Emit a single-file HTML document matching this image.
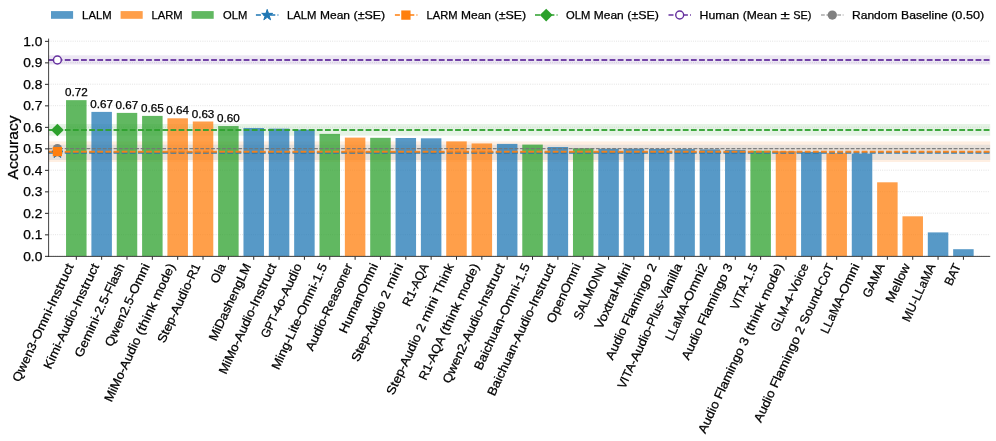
<!DOCTYPE html>
<html><head><meta charset="utf-8"><title>Accuracy chart</title>
<style>html,body{margin:0;padding:0;background:#fff}svg{display:block;will-change:transform}</style></head>
<body>
<svg width="996" height="441" viewBox="0 0 996 441" font-family='"Liberation Sans", sans-serif' fill="#000">
<style>text{stroke:#000;stroke-width:0.25px}</style>
<rect width="996" height="441" fill="#fff"/>
<g stroke="#d4d4d4" stroke-width="0.8" stroke-dasharray="0.8 1.4" fill="none">
<path d="M48.5 256.2H990.2"/>
<path d="M48.5 234.7H990.2"/>
<path d="M48.5 213.2H990.2"/>
<path d="M48.5 191.7H990.2"/>
<path d="M48.5 170.2H990.2"/>
<path d="M48.5 148.7H990.2"/>
<path d="M48.5 127.2H990.2"/>
<path d="M48.5 105.7H990.2"/>
<path d="M48.5 84.2H990.2"/>
<path d="M48.5 62.7H990.2"/>
<path d="M48.5 41.2H990.2"/>
</g>
<rect x="48.5" y="55.3" width="941.7" height="9.2" fill="#65309e" fill-opacity="0.12"/>
<rect x="48.5" y="144.7" width="941.7" height="15.3" fill="#1f77b4" fill-opacity="0.12"/>
<rect x="48.5" y="141.4" width="941.7" height="20.6" fill="#ff7f0e" fill-opacity="0.12"/>
<rect x="48.5" y="124" width="941.7" height="11.7" fill="#2ca02c" fill-opacity="0.12"/>
<g>
<rect x="66.05" y="100.15" width="20.5" height="156.05" fill="#2ca02c" fill-opacity="0.75"/>
<rect x="91.4" y="111.9" width="20.5" height="144.3" fill="#1f77b4" fill-opacity="0.75"/>
<rect x="116.74" y="112.9" width="20.5" height="143.3" fill="#2ca02c" fill-opacity="0.75"/>
<rect x="142.09" y="115.9" width="20.5" height="140.3" fill="#2ca02c" fill-opacity="0.75"/>
<rect x="167.43" y="118.3" width="20.5" height="137.9" fill="#ff7f0e" fill-opacity="0.75"/>
<rect x="192.78" y="121.5" width="20.5" height="134.7" fill="#ff7f0e" fill-opacity="0.75"/>
<rect x="218.13" y="126.05" width="20.5" height="130.15" fill="#2ca02c" fill-opacity="0.75"/>
<rect x="243.47" y="128" width="20.5" height="128.2" fill="#1f77b4" fill-opacity="0.75"/>
<rect x="268.82" y="128.6" width="20.5" height="127.6" fill="#1f77b4" fill-opacity="0.75"/>
<rect x="294.16" y="129.6" width="20.5" height="126.6" fill="#1f77b4" fill-opacity="0.75"/>
<rect x="319.51" y="133.9" width="20.5" height="122.3" fill="#2ca02c" fill-opacity="0.75"/>
<rect x="344.86" y="137.6" width="20.5" height="118.6" fill="#ff7f0e" fill-opacity="0.75"/>
<rect x="370.2" y="137.8" width="20.5" height="118.4" fill="#2ca02c" fill-opacity="0.75"/>
<rect x="395.55" y="138" width="20.5" height="118.2" fill="#1f77b4" fill-opacity="0.75"/>
<rect x="420.89" y="138.3" width="20.5" height="117.9" fill="#1f77b4" fill-opacity="0.75"/>
<rect x="446.24" y="141.4" width="20.5" height="114.8" fill="#ff7f0e" fill-opacity="0.75"/>
<rect x="471.59" y="143.45" width="20.5" height="112.75" fill="#ff7f0e" fill-opacity="0.75"/>
<rect x="496.93" y="143.9" width="20.5" height="112.3" fill="#1f77b4" fill-opacity="0.75"/>
<rect x="522.28" y="144.6" width="20.5" height="111.6" fill="#2ca02c" fill-opacity="0.75"/>
<rect x="547.62" y="147" width="20.5" height="109.2" fill="#1f77b4" fill-opacity="0.75"/>
<rect x="572.97" y="148.3" width="20.5" height="107.9" fill="#2ca02c" fill-opacity="0.75"/>
<rect x="598.32" y="148.8" width="20.5" height="107.4" fill="#1f77b4" fill-opacity="0.75"/>
<rect x="623.66" y="148.8" width="20.5" height="107.4" fill="#1f77b4" fill-opacity="0.75"/>
<rect x="649.01" y="149" width="20.5" height="107.2" fill="#1f77b4" fill-opacity="0.75"/>
<rect x="674.35" y="149.1" width="20.5" height="107.1" fill="#1f77b4" fill-opacity="0.75"/>
<rect x="699.7" y="149.4" width="20.5" height="106.8" fill="#1f77b4" fill-opacity="0.75"/>
<rect x="725.05" y="149.9" width="20.5" height="106.3" fill="#1f77b4" fill-opacity="0.75"/>
<rect x="750.39" y="150.7" width="20.5" height="105.5" fill="#2ca02c" fill-opacity="0.75"/>
<rect x="775.74" y="151.2" width="20.5" height="105" fill="#ff7f0e" fill-opacity="0.75"/>
<rect x="801.08" y="151.9" width="20.5" height="104.3" fill="#1f77b4" fill-opacity="0.75"/>
<rect x="826.43" y="153.1" width="20.5" height="103.1" fill="#ff7f0e" fill-opacity="0.75"/>
<rect x="851.78" y="153.6" width="20.5" height="102.6" fill="#1f77b4" fill-opacity="0.75"/>
<rect x="877.12" y="182.3" width="20.5" height="73.9" fill="#ff7f0e" fill-opacity="0.75"/>
<rect x="902.47" y="216.3" width="20.5" height="39.9" fill="#ff7f0e" fill-opacity="0.75"/>
<rect x="927.81" y="232.4" width="20.5" height="23.8" fill="#1f77b4" fill-opacity="0.75"/>
<rect x="953.16" y="249.2" width="20.5" height="7" fill="#1f77b4" fill-opacity="0.75"/>
</g>
<path d="M48.5 148.65H990.2" stroke="#767676" stroke-width="1.1" stroke-dasharray="3.78 1.64" stroke-opacity="0.9" fill="none"/>
<path d="M48.5 60H990.2" stroke="#65309e" stroke-width="2.0" stroke-dasharray="5.78 2.352" stroke-opacity="0.9" fill="none"/>
<path d="M48.5 152.85H990.2" stroke="#1f77b4" stroke-width="2.0" stroke-dasharray="5.78 2.352" stroke-opacity="0.9" fill="none"/>
<path d="M48.5 151.65H990.2" stroke="#ff7f0e" stroke-width="2.0" stroke-dasharray="5.78 2.352" stroke-opacity="0.9" fill="none"/>
<path d="M48.5 130H990.2" stroke="#2ca02c" stroke-width="2.0" stroke-dasharray="5.78 2.352" stroke-opacity="0.9" fill="none"/>
<circle cx="57.4" cy="148.65" r="4.65" fill="#808080"/>
<circle cx="57.4" cy="60.0" r="3.95" fill="#fff" stroke="#65309e" stroke-width="1.5"/>
<polygon points="57.4,147.1 58.69,151.07 62.87,151.07 59.49,153.53 60.78,157.5 57.4,155.05 54.02,157.5 55.31,153.53 51.93,151.07 56.11,151.07" fill="#1f77b4" stroke="#1f77b4" stroke-width="1" stroke-linejoin="bevel"/>
<rect x="52.75" y="147" width="9.3" height="9.3" fill="#ff7f0e"/>
<polygon points="57.4,123.65 63.75,130 57.4,136.35 51.05,130" fill="#2ca02c"/>
<path d="M48.6 38.6V257.0M48.2 256.4H990.2" stroke="#222" stroke-width="0.85" fill="none"/>
<g stroke="#1a1a1a" stroke-width="0.95" fill="none">
<path d="M45 256.35H48.5"/>
<path d="M45 234.85H48.5"/>
<path d="M45 213.35H48.5"/>
<path d="M45 191.85H48.5"/>
<path d="M45 170.35H48.5"/>
<path d="M45 148.85H48.5"/>
<path d="M45 127.35H48.5"/>
<path d="M45 105.85H48.5"/>
<path d="M45 84.35H48.5"/>
<path d="M45 62.85H48.5"/>
<path d="M45 41.35H48.5"/>
<path d="M76.3 256.7V259.8"/>
<path d="M101.65 256.7V259.8"/>
<path d="M126.99 256.7V259.8"/>
<path d="M152.34 256.7V259.8"/>
<path d="M177.68 256.7V259.8"/>
<path d="M203.03 256.7V259.8"/>
<path d="M228.38 256.7V259.8"/>
<path d="M253.72 256.7V259.8"/>
<path d="M279.07 256.7V259.8"/>
<path d="M304.41 256.7V259.8"/>
<path d="M329.76 256.7V259.8"/>
<path d="M355.11 256.7V259.8"/>
<path d="M380.45 256.7V259.8"/>
<path d="M405.8 256.7V259.8"/>
<path d="M431.14 256.7V259.8"/>
<path d="M456.49 256.7V259.8"/>
<path d="M481.84 256.7V259.8"/>
<path d="M507.18 256.7V259.8"/>
<path d="M532.53 256.7V259.8"/>
<path d="M557.87 256.7V259.8"/>
<path d="M583.22 256.7V259.8"/>
<path d="M608.57 256.7V259.8"/>
<path d="M633.91 256.7V259.8"/>
<path d="M659.26 256.7V259.8"/>
<path d="M684.6 256.7V259.8"/>
<path d="M709.95 256.7V259.8"/>
<path d="M735.3 256.7V259.8"/>
<path d="M760.64 256.7V259.8"/>
<path d="M785.99 256.7V259.8"/>
<path d="M811.33 256.7V259.8"/>
<path d="M836.68 256.7V259.8"/>
<path d="M862.03 256.7V259.8"/>
<path d="M887.37 256.7V259.8"/>
<path d="M912.72 256.7V259.8"/>
<path d="M938.06 256.7V259.8"/>
<path d="M963.41 256.7V259.8"/>
</g>
<text y="260.6" font-size="12.36"><tspan x="23.22" textLength="19.08" lengthAdjust="spacingAndGlyphs">0.0</tspan></text>
<text y="239.1" font-size="12.36"><tspan x="23.22" textLength="19.08" lengthAdjust="spacingAndGlyphs">0.1</tspan></text>
<text y="217.6" font-size="12.36"><tspan x="23.22" textLength="19.08" lengthAdjust="spacingAndGlyphs">0.2</tspan></text>
<text y="196.1" font-size="12.36"><tspan x="23.22" textLength="19.08" lengthAdjust="spacingAndGlyphs">0.3</tspan></text>
<text y="174.6" font-size="12.36"><tspan x="23.22" textLength="19.08" lengthAdjust="spacingAndGlyphs">0.4</tspan></text>
<text y="153.1" font-size="12.36"><tspan x="23.22" textLength="19.08" lengthAdjust="spacingAndGlyphs">0.5</tspan></text>
<text y="131.6" font-size="12.36"><tspan x="23.22" textLength="19.08" lengthAdjust="spacingAndGlyphs">0.6</tspan></text>
<text y="110.1" font-size="12.36"><tspan x="23.22" textLength="19.08" lengthAdjust="spacingAndGlyphs">0.7</tspan></text>
<text y="88.6" font-size="12.36"><tspan x="23.22" textLength="19.08" lengthAdjust="spacingAndGlyphs">0.8</tspan></text>
<text y="67.1" font-size="12.36"><tspan x="23.22" textLength="19.08" lengthAdjust="spacingAndGlyphs">0.9</tspan></text>
<text y="45.6" font-size="12.36"><tspan x="23.22" textLength="19.08" lengthAdjust="spacingAndGlyphs">1.0</tspan></text>
<text y="0" transform="translate(18.1 147.5) rotate(-90)" font-size="14.42"><tspan x="-31.96" textLength="63.92" lengthAdjust="spacingAndGlyphs">Accuracy</tspan></text>
<text y="96.15" font-size="10.51"><tspan x="64.94" textLength="22.71" lengthAdjust="spacingAndGlyphs">0.72</tspan></text>
<text y="107.9" font-size="10.51"><tspan x="90.29" textLength="22.71" lengthAdjust="spacingAndGlyphs">0.67</tspan></text>
<text y="108.9" font-size="10.51"><tspan x="115.64" textLength="22.71" lengthAdjust="spacingAndGlyphs">0.67</tspan></text>
<text y="111.9" font-size="10.51"><tspan x="140.98" textLength="22.71" lengthAdjust="spacingAndGlyphs">0.65</tspan></text>
<text y="114.3" font-size="10.51"><tspan x="166.33" textLength="22.71" lengthAdjust="spacingAndGlyphs">0.64</tspan></text>
<text y="117.5" font-size="10.51"><tspan x="191.67" textLength="22.71" lengthAdjust="spacingAndGlyphs">0.63</tspan></text>
<text y="122.05" font-size="10.51"><tspan x="217.02" textLength="22.71" lengthAdjust="spacingAndGlyphs">0.60</tspan></text>
<text y="0" transform="translate(74 265.9) rotate(-65)" font-size="12.36"><tspan x="-128.9" textLength="46.21" lengthAdjust="spacingAndGlyphs">Qwen3-</tspan><tspan x="-82.68" textLength="36.74" lengthAdjust="spacingAndGlyphs">Omni-</tspan><tspan x="-45.94" textLength="45.94" lengthAdjust="spacingAndGlyphs">Instruct</tspan></text>
<text y="0" transform="translate(99.35 265.9) rotate(-65)" font-size="12.36"><tspan x="-114.9" textLength="30.56" lengthAdjust="spacingAndGlyphs">Kimi-</tspan><tspan x="-84.34" textLength="38.4" lengthAdjust="spacingAndGlyphs">Audio-</tspan><tspan x="-45.94" textLength="45.94" lengthAdjust="spacingAndGlyphs">Instruct</tspan></text>
<text y="0" transform="translate(124.69 265.9) rotate(-65)" font-size="12.36"><tspan x="-101.84" textLength="46.97" lengthAdjust="spacingAndGlyphs">Gemini-</tspan><tspan x="-54.86" textLength="23.41" lengthAdjust="spacingAndGlyphs">2.5-</tspan><tspan x="-31.45" textLength="31.45" lengthAdjust="spacingAndGlyphs">Flash</tspan></text>
<text y="0" transform="translate(150.04 265.9) rotate(-65)" font-size="12.36"><tspan x="-90.07" textLength="57.66" lengthAdjust="spacingAndGlyphs">Qwen2.5-</tspan><tspan x="-32.41" textLength="32.41" lengthAdjust="spacingAndGlyphs">Omni</tspan></text>
<text y="0" transform="translate(175.38 265.9) rotate(-65)" font-size="12.36"><tspan x="-151" textLength="35.94" lengthAdjust="spacingAndGlyphs">MiMo-</tspan><tspan x="-115.07" textLength="33.84" lengthAdjust="spacingAndGlyphs">Audio</tspan> <tspan x="-77.41" textLength="34.88" lengthAdjust="spacingAndGlyphs">(think</tspan> <tspan x="-38.71" textLength="38.71" lengthAdjust="spacingAndGlyphs">mode)</tspan></text>
<text y="0" transform="translate(200.73 265.9) rotate(-65)" font-size="12.36"><tspan x="-86.02" textLength="31.65" lengthAdjust="spacingAndGlyphs">Step-</tspan><tspan x="-54.37" textLength="38.4" lengthAdjust="spacingAndGlyphs">Audio-</tspan><tspan x="-15.97" textLength="15.97" lengthAdjust="spacingAndGlyphs">R1</tspan></text>
<text y="0" transform="translate(226.08 265.9) rotate(-65)" font-size="12.36"><tspan x="-20.13" textLength="20.13" lengthAdjust="spacingAndGlyphs">Ola</tspan></text>
<text y="0" transform="translate(251.42 265.9) rotate(-65)" font-size="12.36"><tspan x="-83.78" textLength="83.78" lengthAdjust="spacingAndGlyphs">MiDashengLM</tspan></text>
<text y="0" transform="translate(276.77 265.9) rotate(-65)" font-size="12.36"><tspan x="-120.28" textLength="35.94" lengthAdjust="spacingAndGlyphs">MiMo-</tspan><tspan x="-84.34" textLength="38.4" lengthAdjust="spacingAndGlyphs">Audio-</tspan><tspan x="-45.94" textLength="45.94" lengthAdjust="spacingAndGlyphs">Instruct</tspan></text>
<text y="0" transform="translate(302.11 265.9) rotate(-65)" font-size="12.36"><tspan x="-80.47" textLength="27.09" lengthAdjust="spacingAndGlyphs">GPT-</tspan><tspan x="-53.37" textLength="19.53" lengthAdjust="spacingAndGlyphs">4o-</tspan><tspan x="-33.84" textLength="33.84" lengthAdjust="spacingAndGlyphs">Audio</tspan></text>
<text y="0" transform="translate(327.46 265.9) rotate(-65)" font-size="12.36"><tspan x="-115.5" textLength="33.24" lengthAdjust="spacingAndGlyphs">Ming-</tspan><tspan x="-82.26" textLength="26.44" lengthAdjust="spacingAndGlyphs">Lite-</tspan><tspan x="-55.82" textLength="36.74" lengthAdjust="spacingAndGlyphs">Omni-</tspan><tspan x="-19.08" textLength="19.08" lengthAdjust="spacingAndGlyphs">1.5</tspan></text>
<text y="0" transform="translate(352.81 265.9) rotate(-65)" font-size="12.36"><tspan x="-94.71" textLength="38.66" lengthAdjust="spacingAndGlyphs">Audio-</tspan><tspan x="-56.05" textLength="56.05" lengthAdjust="spacingAndGlyphs">Reasoner</tspan></text>
<text y="0" transform="translate(378.15 265.9) rotate(-65)" font-size="12.36"><tspan x="-75.35" textLength="75.35" lengthAdjust="spacingAndGlyphs">HumanOmni</tspan></text>
<text y="0" transform="translate(403.5 265.9) rotate(-65)" font-size="12.36"><tspan x="-106.72" textLength="31.65" lengthAdjust="spacingAndGlyphs">Step-</tspan><tspan x="-75.07" textLength="33.84" lengthAdjust="spacingAndGlyphs">Audio</tspan> <tspan x="-37.41" textLength="7.63" lengthAdjust="spacingAndGlyphs">2</tspan> <tspan x="-25.96" textLength="25.96" lengthAdjust="spacingAndGlyphs">mini</tspan></text>
<text y="0" transform="translate(428.84 265.9) rotate(-65)" font-size="12.36"><tspan x="-45.69" textLength="20.3" lengthAdjust="spacingAndGlyphs">R1-</tspan><tspan x="-25.39" textLength="25.39" lengthAdjust="spacingAndGlyphs">AQA</tspan></text>
<text y="0" transform="translate(454.19 265.9) rotate(-65)" font-size="12.36"><tspan x="-143.36" textLength="31.65" lengthAdjust="spacingAndGlyphs">Step-</tspan><tspan x="-111.71" textLength="33.84" lengthAdjust="spacingAndGlyphs">Audio</tspan> <tspan x="-74.05" textLength="7.63" lengthAdjust="spacingAndGlyphs">2</tspan> <tspan x="-62.6" textLength="25.96" lengthAdjust="spacingAndGlyphs">mini</tspan> <tspan x="-32.82" textLength="32.82" lengthAdjust="spacingAndGlyphs">Think</tspan></text>
<text y="0" transform="translate(479.54 265.9) rotate(-65)" font-size="12.36"><tspan x="-126.91" textLength="20.3" lengthAdjust="spacingAndGlyphs">R1-</tspan><tspan x="-106.61" textLength="25.39" lengthAdjust="spacingAndGlyphs">AQA</tspan> <tspan x="-77.41" textLength="34.88" lengthAdjust="spacingAndGlyphs">(think</tspan> <tspan x="-38.71" textLength="38.71" lengthAdjust="spacingAndGlyphs">mode)</tspan></text>
<text y="0" transform="translate(504.88 265.9) rotate(-65)" font-size="12.36"><tspan x="-130.55" textLength="46.21" lengthAdjust="spacingAndGlyphs">Qwen2-</tspan><tspan x="-84.34" textLength="38.4" lengthAdjust="spacingAndGlyphs">Audio-</tspan><tspan x="-45.94" textLength="45.94" lengthAdjust="spacingAndGlyphs">Instruct</tspan></text>
<text y="0" transform="translate(530.23 265.9) rotate(-65)" font-size="12.36"><tspan x="-115.84" textLength="60.02" lengthAdjust="spacingAndGlyphs">Baichuan-</tspan><tspan x="-55.82" textLength="36.74" lengthAdjust="spacingAndGlyphs">Omni-</tspan><tspan x="-19.08" textLength="19.08" lengthAdjust="spacingAndGlyphs">1.5</tspan></text>
<text y="0" transform="translate(555.57 265.9) rotate(-65)" font-size="12.36"><tspan x="-144.36" textLength="60.02" lengthAdjust="spacingAndGlyphs">Baichuan-</tspan><tspan x="-84.34" textLength="38.4" lengthAdjust="spacingAndGlyphs">Audio-</tspan><tspan x="-45.94" textLength="45.94" lengthAdjust="spacingAndGlyphs">Instruct</tspan></text>
<text y="0" transform="translate(580.92 265.9) rotate(-65)" font-size="12.36"><tspan x="-64.13" textLength="64.13" lengthAdjust="spacingAndGlyphs">OpenOmni</tspan></text>
<text y="0" transform="translate(606.27 265.9) rotate(-65)" font-size="12.36"><tspan x="-60.49" textLength="60.49" lengthAdjust="spacingAndGlyphs">SALMONN</tspan></text>
<text y="0" transform="translate(631.61 265.9) rotate(-65)" font-size="12.36"><tspan x="-70.63" textLength="46.01" lengthAdjust="spacingAndGlyphs">Voxtral-</tspan><tspan x="-24.63" textLength="24.63" lengthAdjust="spacingAndGlyphs">Mini</tspan></text>
<text y="0" transform="translate(656.96 265.9) rotate(-65)" font-size="12.36"><tspan x="-104.55" textLength="34.11" lengthAdjust="spacingAndGlyphs">Audio</tspan> <tspan x="-66.63" textLength="55.18" lengthAdjust="spacingAndGlyphs">Flamingo</tspan> <tspan x="-7.63" textLength="7.63" lengthAdjust="spacingAndGlyphs">2</tspan></text>
<text y="0" transform="translate(682.3 265.9) rotate(-65)" font-size="12.36"><tspan x="-136.47" textLength="30.42" lengthAdjust="spacingAndGlyphs">VITA-</tspan><tspan x="-106.04" textLength="38.4" lengthAdjust="spacingAndGlyphs">Audio-</tspan><tspan x="-67.65" textLength="28.76" lengthAdjust="spacingAndGlyphs">Plus-</tspan><tspan x="-38.89" textLength="38.89" lengthAdjust="spacingAndGlyphs">Vanilla</tspan></text>
<text y="0" transform="translate(707.65 265.9) rotate(-65)" font-size="12.36"><tspan x="-83.4" textLength="43.35" lengthAdjust="spacingAndGlyphs">LLaMA-</tspan><tspan x="-40.04" textLength="40.04" lengthAdjust="spacingAndGlyphs">Omni2</tspan></text>
<text y="0" transform="translate(733 265.9) rotate(-65)" font-size="12.36"><tspan x="-104.55" textLength="34.11" lengthAdjust="spacingAndGlyphs">Audio</tspan> <tspan x="-66.63" textLength="55.18" lengthAdjust="spacingAndGlyphs">Flamingo</tspan> <tspan x="-7.63" textLength="7.63" lengthAdjust="spacingAndGlyphs">3</tspan></text>
<text y="0" transform="translate(758.34 265.9) rotate(-65)" font-size="12.36"><tspan x="-49.51" textLength="30.42" lengthAdjust="spacingAndGlyphs">VITA-</tspan><tspan x="-19.08" textLength="19.08" lengthAdjust="spacingAndGlyphs">1.5</tspan></text>
<text y="0" transform="translate(783.69 265.9) rotate(-65)" font-size="12.36"><tspan x="-185.77" textLength="34.11" lengthAdjust="spacingAndGlyphs">Audio</tspan> <tspan x="-147.85" textLength="55.18" lengthAdjust="spacingAndGlyphs">Flamingo</tspan> <tspan x="-88.86" textLength="7.63" lengthAdjust="spacingAndGlyphs">3</tspan> <tspan x="-77.41" textLength="34.88" lengthAdjust="spacingAndGlyphs">(think</tspan> <tspan x="-38.71" textLength="38.71" lengthAdjust="spacingAndGlyphs">mode)</tspan></text>
<text y="0" transform="translate(809.03 265.9) rotate(-65)" font-size="12.36"><tspan x="-73.86" textLength="30.67" lengthAdjust="spacingAndGlyphs">GLM-</tspan><tspan x="-43.2" textLength="11.96" lengthAdjust="spacingAndGlyphs">4-</tspan><tspan x="-31.23" textLength="31.23" lengthAdjust="spacingAndGlyphs">Voice</tspan></text>
<text y="0" transform="translate(834.38 265.9) rotate(-65)" font-size="12.36"><tspan x="-173.53" textLength="34.11" lengthAdjust="spacingAndGlyphs">Audio</tspan> <tspan x="-135.61" textLength="55.18" lengthAdjust="spacingAndGlyphs">Flamingo</tspan> <tspan x="-76.62" textLength="7.63" lengthAdjust="spacingAndGlyphs">2</tspan> <tspan x="-65.17" textLength="42.12" lengthAdjust="spacingAndGlyphs">Sound-</tspan><tspan x="-23.05" textLength="23.05" lengthAdjust="spacingAndGlyphs">CoT</tspan></text>
<text y="0" transform="translate(859.73 265.9) rotate(-65)" font-size="12.36"><tspan x="-75.76" textLength="43.35" lengthAdjust="spacingAndGlyphs">LLaMA-</tspan><tspan x="-32.41" textLength="32.41" lengthAdjust="spacingAndGlyphs">Omni</tspan></text>
<text y="0" transform="translate(885.07 265.9) rotate(-65)" font-size="12.36"><tspan x="-36.07" textLength="36.07" lengthAdjust="spacingAndGlyphs">GAMA</tspan></text>
<text y="0" transform="translate(910.42 265.9) rotate(-65)" font-size="12.36"><tspan x="-41.56" textLength="41.56" lengthAdjust="spacingAndGlyphs">Mellow</tspan></text>
<text y="0" transform="translate(935.76 265.9) rotate(-65)" font-size="12.36"><tspan x="-62.75" textLength="23.47" lengthAdjust="spacingAndGlyphs">MU-</tspan><tspan x="-39.29" textLength="39.29" lengthAdjust="spacingAndGlyphs">LLaMA</tspan></text>
<text y="0" transform="translate(961.11 265.9) rotate(-65)" font-size="12.36"><tspan x="-22.84" textLength="22.84" lengthAdjust="spacingAndGlyphs">BAT</tspan></text>
<rect x="51.0" y="11.1" width="22.1" height="7.7" fill="#5799c7"/>
<rect x="120.6" y="11.1" width="22.1" height="7.7" fill="#ff9f4a"/>
<rect x="191.6" y="11.1" width="22.1" height="7.7" fill="#61b861"/>
<path d="M255.9 15.05H278.4" stroke="#1f77b4" stroke-width="1.4" stroke-dasharray="5 2.2" fill="none"/>
<polygon points="267.2,9.4 268.49,13.37 272.67,13.37 269.29,15.83 270.58,19.8 267.2,17.35 263.82,19.8 265.11,15.83 261.73,13.37 265.91,13.37" fill="#1f77b4" stroke="#1f77b4" stroke-width="1" stroke-linejoin="bevel"/>
<path d="M394.9 15.05H417.4" stroke="#ff7f0e" stroke-width="1.4" stroke-dasharray="5 2.2" fill="none"/>
<rect x="401.25" y="10.45" width="9.3" height="9.3" fill="#ff7f0e"/>
<path d="M535 15.05H557.5" stroke="#2ca02c" stroke-width="1.4" stroke-dasharray="5 2.2" fill="none"/>
<polygon points="546.2,8.7 552.55,15.05 546.2,21.4 539.85,15.05" fill="#2ca02c"/>
<path d="M668.5 15.05H691" stroke="#65309e" stroke-width="1.4" stroke-dasharray="5 2.2" fill="none"/>
<circle cx="679.7" cy="15" r="3.95" fill="#fff" stroke="#65309e" stroke-width="1.4"/>
<path d="M821 15.05H843.5" stroke="#808080" stroke-width="1.05" stroke-dasharray="3.78 1.64" fill="none"/>
<circle cx="832.3" cy="15.05" r="4.65" fill="#808080"/>
<text y="18.8" font-size="11.33"><tspan x="82.1" textLength="29.52" lengthAdjust="spacingAndGlyphs">LALM</tspan></text>
<text y="18.8" font-size="11.33"><tspan x="151.6" textLength="31.04" lengthAdjust="spacingAndGlyphs">LARM</tspan></text>
<text y="18.8" font-size="11.33"><tspan x="223.1" textLength="24.28" lengthAdjust="spacingAndGlyphs">OLM</tspan></text>
<text y="18.8" font-size="11.33"><tspan x="287" textLength="29.52" lengthAdjust="spacingAndGlyphs">LALM</tspan> <tspan x="320.02" textLength="29.97" lengthAdjust="spacingAndGlyphs">Mean</tspan> <tspan x="353.49" textLength="31.73" lengthAdjust="spacingAndGlyphs">(±SE)</tspan></text>
<text y="18.8" font-size="11.33"><tspan x="426.5" textLength="31.04" lengthAdjust="spacingAndGlyphs">LARM</tspan> <tspan x="461.04" textLength="29.97" lengthAdjust="spacingAndGlyphs">Mean</tspan> <tspan x="494.5" textLength="31.73" lengthAdjust="spacingAndGlyphs">(±SE)</tspan></text>
<text y="18.8" font-size="11.33"><tspan x="566" textLength="24.28" lengthAdjust="spacingAndGlyphs">OLM</tspan> <tspan x="593.77" textLength="29.97" lengthAdjust="spacingAndGlyphs">Mean</tspan> <tspan x="627.24" textLength="31.73" lengthAdjust="spacingAndGlyphs">(±SE)</tspan></text>
<text y="18.8" font-size="11.33"><tspan x="699.5" textLength="39.67" lengthAdjust="spacingAndGlyphs">Human</tspan> <tspan x="742.67" textLength="34.26" lengthAdjust="spacingAndGlyphs">(Mean</tspan> <tspan x="780.43" textLength="9.22" lengthAdjust="spacingAndGlyphs">±</tspan> <tspan x="793.14" textLength="18.22" lengthAdjust="spacingAndGlyphs">SE)</tspan></text>
<text y="18.8" font-size="11.33"><tspan x="852" textLength="45.54" lengthAdjust="spacingAndGlyphs">Random</tspan> <tspan x="901.04" textLength="46.64" lengthAdjust="spacingAndGlyphs">Baseline</tspan> <tspan x="951.17" textLength="33.08" lengthAdjust="spacingAndGlyphs">(0.50)</tspan></text>
</svg>
</body></html>
